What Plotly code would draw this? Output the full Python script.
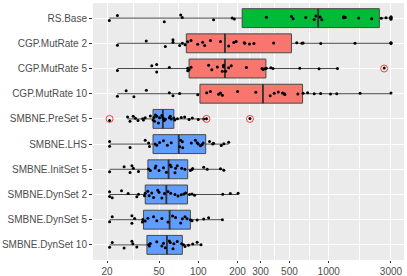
import plotly.graph_objects as go

categories = ["RS.Base", "CGP.MutRate 2", "CGP.MutRate 5", "CGP.MutRate 10",
              "SMBNE.PreSet 5", "SMBNE.LHS", "SMBNE.InitSet 5",
              "SMBNE.DynSet 2", "SMBNE.DynSet 5", "SMBNE.DynSet 10"]
groups = ["RS", "CGP", "CGP", "CGP", "SMBNE", "SMBNE", "SMBNE", "SMBNE", "SMBNE", "SMBNE"]

# box statistics
q1 = [217, 81, 85, 103, 45, 45, 41.1, 39.2, 38, 40.4]
median = [830, 160, 160, 313, 53.5, 70.8, 59.2, 56.9, 60.3, 57.5]
q3 = [2444, 518, 330, 630, 65, 114, 83, 82.7, 87, 75.5]
lower_whisker = [20.8, 24, 24, 24, 28.7, 20.9, 20.9, 20.9, 20.9, 20.9]
upper_whisker = [3000, 3000, 1166, 3000, 110, 171, 157, 202, 153, 105]

# individual observations
rs_base = [20.8, 24, 54.9, 73.3, 75.4, 131, 182, 189, 333, 518, 533, 667, 773, 797, 859,
           886, 1301, 1301, 1340, 1696, 2134, 2530, 2749, 3000, 3000, 3000, 3000, 3000]
cgp_mut2 = [24.0, 39.9, 55.9, 64, 64, 72, 75.5, 79.2, 83, 88, 99, 108, 112, 124, 148, 171,
            187, 195, 225, 227, 247, 267, 378, 569, 623, 636, 869, 1589, 3000, 3000, 3000]
cgp_mut5 = [24, 44, 48, 48, 60, 83, 83, 85, 88, 120, 127, 140, 153, 156, 156, 162, 171, 179,
            234, 308, 314, 323, 333, 360, 374, 600, 843, 1166, 2660]
cgp_mut10 = [24, 28, 32.1, 40, 60, 64, 72, 99, 116, 124, 143, 148, 153, 200, 276, 356, 382,
             410, 442, 456, 461, 580, 636, 689, 774, 867, 1032, 1152, 1740, 3000]
smbne_preset5 = [20.9, 28.7, 30, 31.7, 33, 34.5, 37.5, 38, 39.2, 42.9, 45, 45.8, 46.2, 47,
                 48.1, 49.5, 50.5, 52.6, 53.5, 54.1, 54.9, 56, 60, 61, 62, 65, 66, 69.2, 74,
                 78.6, 85, 90, 100, 110, 115.6, 249]
smbne_lhs = [20.9, 20.9, 30, 39.2, 41.6, 42.3, 46.7, 48.1, 50.5, 54.1, 57.9, 62, 72, 73.3,
             75.5, 76, 88.4, 95, 98, 100, 104, 107, 109, 122, 129, 131, 150, 157, 171]
smbne_initset5 = [20.9, 27, 30, 31, 31.8, 34.8, 41.6, 42.9, 46.7, 47.3, 50, 54.1, 57, 61, 62,
                  66.3, 67, 69, 74.6, 79, 87, 89.5, 90.6, 110, 117, 148, 157]
smbne_dynset2 = [20.9, 20.9, 21.9, 25.8, 29.0, 33.8, 34.8, 38.7, 39.2, 41, 42, 44, 45.4, 48.9,
                 50, 52.6, 55, 58.6, 61.5, 66.3, 70, 74, 77.5, 80, 85.6, 89.5, 93.7, 154, 176, 202]
smbne_dynset5 = [20.9, 21.9, 31, 31, 32.5, 37.3, 37.6, 39.2, 41.1, 45.4, 48.1, 52.6, 58.6,
                 63.5, 67, 73.3, 75.5, 79.2, 82, 87, 89.5, 98, 110, 120, 153]
smbne_dynset10 = [20.9, 21.9, 27, 31, 31.5, 33.8, 41.6, 42.2, 42.9, 48.1, 52.6, 54.1, 55.9,
                  60, 61, 64, 65, 69, 74.6, 77, 79.2, 84.2, 90.6, 98, 105]
observations = [rs_base, cgp_mut2, cgp_mut5, cgp_mut10, smbne_preset5, smbne_lhs,
                smbne_initset5, smbne_dynset2, smbne_dynset5, smbne_dynset10]

outlier_categories = ["SMBNE.PreSet 5", "SMBNE.PreSet 5", "SMBNE.PreSet 5", "CGP.MutRate 5"]
outlier_values = [20.9, 115.6, 249, 2660]

tick_values = [20, 50, 100, 200, 300, 500, 1000, 3000]
tick_labels = ["20", "50", "100", "200", "300", "500", "1000", "3000"]
minor_values = [31.62, 70.71, 141.4, 244.9, 387.3, 707.1, 1732]

group_colors = {"RS": "#00BA38", "CGP": "#F8766D", "SMBNE": "#619CFF"}

fig = go.Figure()

for g in ["RS", "CGP", "SMBNE"]:
    idx = [i for i, gg in enumerate(groups) if gg == g]
    fig.add_trace(go.Box(
        y=[categories[i] for i in idx],
        q1=[q1[i] for i in idx],
        median=[median[i] for i in idx],
        q3=[q3[i] for i in idx],
        lowerfence=[lower_whisker[i] for i in idx],
        upperfence=[upper_whisker[i] for i in idx],
        orientation="h",
        fillcolor=group_colors[g],
        line=dict(color="#4a4a4a", width=1),
        whiskerwidth=0,
        width=0.75,
        boxpoints=False,
        showlegend=False,
    ))

# thicker median line (as in ggplot)
fig.add_trace(go.Box(
    y=categories, q1=median, median=median, q3=median,
    lowerfence=median, upperfence=median,
    orientation="h", fillcolor="rgba(0,0,0,0)",
    line=dict(color="#333333", width=1.8), whiskerwidth=0, width=0.75,
    boxpoints=False, showlegend=False, hoverinfo="skip",
))

fig.add_trace(go.Scatter(
    x=outlier_values, y=outlier_categories, mode="markers",
    marker=dict(symbol="circle-open", size=7, color="rgba(240,40,40,0.85)",
                line=dict(width=1)),
    showlegend=False,
))

for cat, vals in zip(categories, observations):
    fig.add_trace(go.Box(
        x=vals, y=[cat] * len(vals), orientation="h",
        boxpoints="all", jitter=0.5, pointpos=0,
        marker=dict(color="black", size=3),
        fillcolor="rgba(0,0,0,0)", line=dict(width=0, color="rgba(0,0,0,0)"),
        width=0.75, showlegend=False,
    ))

fig.update_layout(
    width=407, height=276,
    margin=dict(l=93, r=3, t=3, b=16, autoexpand=False),
    paper_bgcolor="white", plot_bgcolor="#EBEBEB",
    boxmode="overlay",
    font=dict(family="Liberation Sans, Arial, sans-serif", size=10, color="#4D4D4D"),
    xaxis=dict(
        type="log", range=[1.193, 3.577], automargin=False,
        tickmode="array", tickvals=tick_values, ticktext=tick_labels,
        showgrid=True, gridcolor="white", gridwidth=1,
        ticks="outside", ticklen=2, tickcolor="#333333", tickwidth=1,
        zeroline=False, showline=False,
        minor=dict(tickmode="array", tickvals=minor_values, showgrid=True,
                   gridcolor="white", gridwidth=0.5, ticks=""),
        tickfont=dict(size=10, color="#4D4D4D"),
    ),
    yaxis=dict(
        type="category", categoryorder="array", categoryarray=categories,
        range=[9.6, -0.6], automargin=False,
        showgrid=True, gridcolor="white", gridwidth=1,
        ticks="outside", ticklen=3, tickcolor="#333333", tickwidth=1,
        zeroline=False, showline=False,
        tickfont=dict(size=10, color="#4D4D4D"),
    ),
)

fig.write_html("out.html",
               config={"displayModeBar": False},
               post_script="document.body.style.margin='0';document.body.style.overflow='hidden';")
